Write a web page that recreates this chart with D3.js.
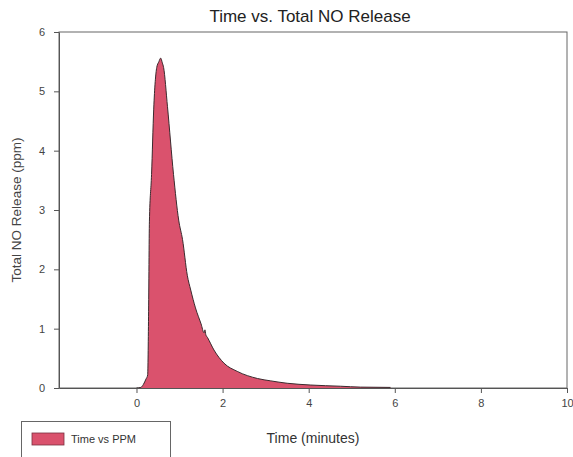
<!DOCTYPE html>
<html>
<head>
<meta charset="utf-8">
<script src="https://cdn.jsdelivr.net/npm/d3@7"></script>
<style>
  html, body { margin: 0; padding: 0; background: #fff; }
  svg { display: block; font-family: "Liberation Sans", Arial, sans-serif; }
</style>
</head>
<body>
<svg id="chart" width="573" height="457"></svg>
<script>
const title = "Time vs. Total NO Release";
const xLabel = "Time (minutes)";
const yLabel = "Total NO Release (ppm)";
const seriesName = "Time vs PPM";
const times = [0, 0.10, 0.16, 0.22, 0.26, 0.28, 0.30, 0.35, 0.40, 0.47, 0.52, 0.56, 0.60, 0.63, 0.72, 0.86, 0.98, 1.07, 1.18, 1.26, 1.37, 1.50, 1.57, 1.59, 1.61, 1.65, 1.80, 2.03, 2.34, 2.81, 3.12, 3.50, 4.05, 4.74, 5.20, 5.90];
const ppm   = [0, 0.01, 0.06, 0.15, 0.22, 1.2, 2.8, 3.6, 4.7, 5.4, 5.5, 5.56, 5.48, 5.4, 4.74, 3.6, 2.83, 2.5, 1.9, 1.65, 1.35, 1.08, 0.93, 0.98, 0.9, 0.85, 0.64, 0.42, 0.28, 0.16, 0.12, 0.08, 0.05, 0.03, 0.015, 0.01];
const xTicks = [0, 2, 4, 6, 8, 10];
const yTicks = [0, 1, 2, 3, 4, 5, 6];

const svg = d3.select("#chart");
const mLeft = 59, mRight = 567, mTop = 32, mBottom = 388;
const x = d3.scaleLinear().domain([-1.8, 10]).range([mLeft, mRight]);
const y = d3.scaleLinear().domain([0, 6]).range([mBottom, mTop]);
const data = times.map((t, i) => ({t, v: ppm[i]}));

// frame
svg.append("rect").attr("x", mLeft).attr("y", mTop).attr("width", mRight - mLeft).attr("height", mBottom - mTop)
  .attr("fill", "none").attr("stroke", "#666").attr("stroke-width", 1);

// area
svg.append("path").datum(data)
  .attr("d", d3.area().curve(d3.curveMonotoneX).x(d => x(d.t)).y0(y(0)).y1(d => y(d.v)))
  .attr("fill", "#da526d");
svg.append("path").datum(data)
  .attr("d", d3.line().curve(d3.curveMonotoneX).x(d => x(d.t)).y(d => y(d.v)))
  .attr("fill", "none").attr("stroke", "#3a2a2e").attr("stroke-width", 1);

// axes
const xAxis = svg.append("g").attr("transform", `translate(0,${mBottom})`)
  .call(d3.axisBottom(x).tickValues(xTicks).tickSize(5).tickSizeOuter(0).tickPadding(6).tickFormat(d3.format("d")));
const yAxis = svg.append("g").attr("transform", `translate(${mLeft},0)`)
  .call(d3.axisLeft(y).tickValues(yTicks).tickSize(5).tickSizeOuter(0).tickPadding(9).tickFormat(d3.format("d")));
[xAxis, yAxis].forEach(g => {
  g.select(".domain").attr("stroke", "#555");
  g.selectAll(".tick line").attr("stroke", "#555");
  g.selectAll(".tick text").attr("fill", "#444").style("font-size", "11px").style("font-family", "Liberation Sans, Arial, sans-serif");
});

// titles
svg.append("text").attr("x", 310).attr("y", 22).attr("text-anchor", "middle")
  .style("font-size", "17px").attr("fill", "#222").text(title);
svg.append("text").attr("x", 313).attr("y", 443).attr("text-anchor", "middle")
  .style("font-size", "14px").attr("fill", "#333").text(xLabel);
svg.append("text").attr("transform", `translate(21,${(mTop + mBottom) / 2}) rotate(-90)`).attr("text-anchor", "middle")
  .style("font-size", "13.5px").attr("fill", "#444").text(yLabel);

// legend
const lg = svg.append("g");
lg.append("rect").attr("x", 21.5).attr("y", 421.5).attr("width", 149).attr("height", 40)
  .attr("fill", "#fff").attr("stroke", "#666");
lg.append("rect").attr("x", 32).attr("y", 433).attr("width", 32).attr("height", 12)
  .attr("fill", "#da526d").attr("stroke", "#7a3040").attr("stroke-width", 0.8);
lg.append("text").attr("x", 71).attr("y", 443).style("font-size", "11px").attr("fill", "#333").text(seriesName);
</script>
</body>
</html>
